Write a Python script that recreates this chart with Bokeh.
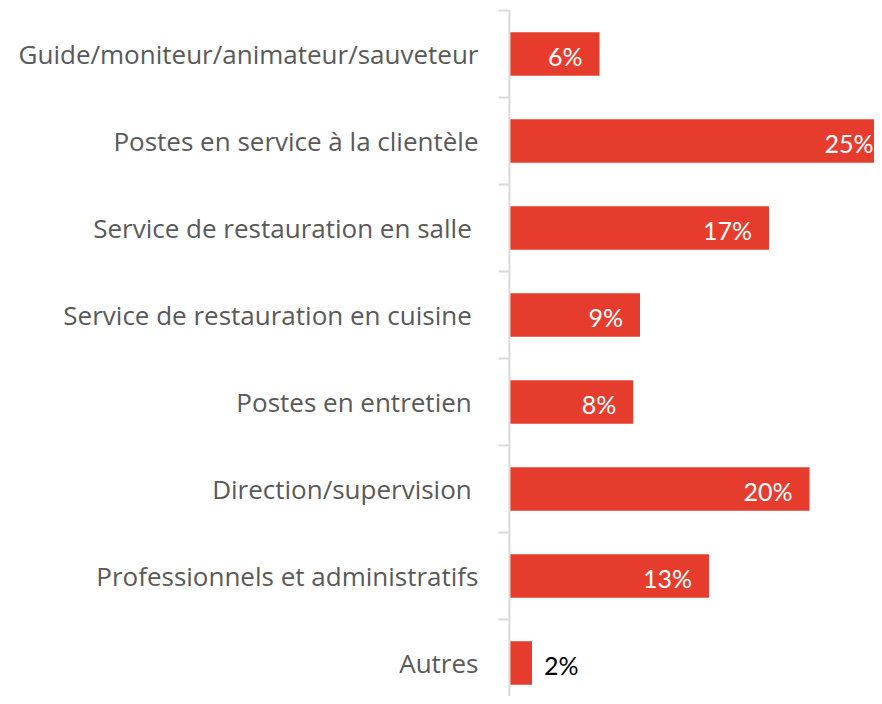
from bokeh.plotting import figure
from bokeh.models import Range1d, FixedTicker, ColumnDataSource
from bokeh.core.properties import value
from bokeh.embed import file_html
from bokeh.resources import INLINE

categories = [
    "Guide/moniteur/animateur/sauveteur",
    "Postes en service à la clientèle",
    "Service de restauration en salle\u00a0",
    "Service de restauration en cuisine\u00a0",
    "Postes en entretien\u00a0",
    "Direction/supervision\u00a0",
    "Professionnels et administratifs",
    "Autres",
]
values = [6.0, 25.4, 17.3, 8.7, 8.25, 20.0, 13.3, 1.5]
value_labels = ["6%", "25%", "17%", "9%", "8%", "20%", "13%", "2%"]

CAT_FONT = "Open Sans"
VAL_FONT = "Lato"
BAR = "#e63c2e"
n = len(categories)
pos = list(range(n))

W, H = 874, 696
LEFT, TOP = 509, 10
PX_PER_UNIT = 15.0
BAND = 87.0

p = figure(width=W, height=H, output_backend="svg", toolbar_location=None,
           x_range=Range1d(0, (W - LEFT) / PX_PER_UNIT),
           y_range=Range1d(-0.5 + (H - TOP) / BAND, -0.5),
           min_border_left=LEFT, min_border_right=0, min_border_top=TOP, min_border_bottom=0,
           x_axis_location=None)
p.outline_line_color = None
p.grid.visible = False
p.background_fill_color = "white"
p.border_fill_color = "white"

src = ColumnDataSource(dict(y=pos, v=values, lab=value_labels))
p.hbar(y="y", left=0, right="v", height=0.5, source=src, fill_color=BAR, line_color=None)

inside = [i for i in pos if values[i] > 3]
outside = [i for i in pos if values[i] <= 3]
src_in = ColumnDataSource(dict(y=[pos[i] for i in inside], v=[values[i] for i in inside],
                               lab=[value_labels[i] for i in inside]))
src_out = ColumnDataSource(dict(y=[pos[i] for i in outside], v=[values[i] for i in outside],
                                lab=[value_labels[i] for i in outside]))
p.text(x="v", y="y", text="lab", source=src_in, x_offset=-17, y_offset=2,
       text_align="right", text_baseline="middle", text_color="white",
       text_font=value(VAL_FONT), text_font_size="25px")
p.text(x="v", y="y", text="lab", source=src_out, x_offset=12, y_offset=2,
       text_align="left", text_baseline="middle", text_color="black",
       text_font=value(VAL_FONT), text_font_size="25px")

ax = p.yaxis[0]
ax.ticker = FixedTicker(ticks=pos, minor_ticks=[i - 0.5 for i in range(n + 1)])
ax.major_label_overrides = {i: categories[i] for i in pos}
ax.axis_line_color = "#d9d9d9"
ax.axis_line_width = 2
ax.major_tick_line_color = None
ax.major_tick_in = 0
ax.major_tick_out = 0
ax.minor_tick_line_color = "#d9d9d9"
ax.minor_tick_line_width = 2
ax.minor_tick_in = 0
ax.minor_tick_out = 11
ax.major_label_standoff = 20
ax.major_label_text_font = CAT_FONT
ax.major_label_text_font_size = "26px"
ax.major_label_text_color = "#595959"

open("out.html", "w").write(file_html(p, INLINE))
